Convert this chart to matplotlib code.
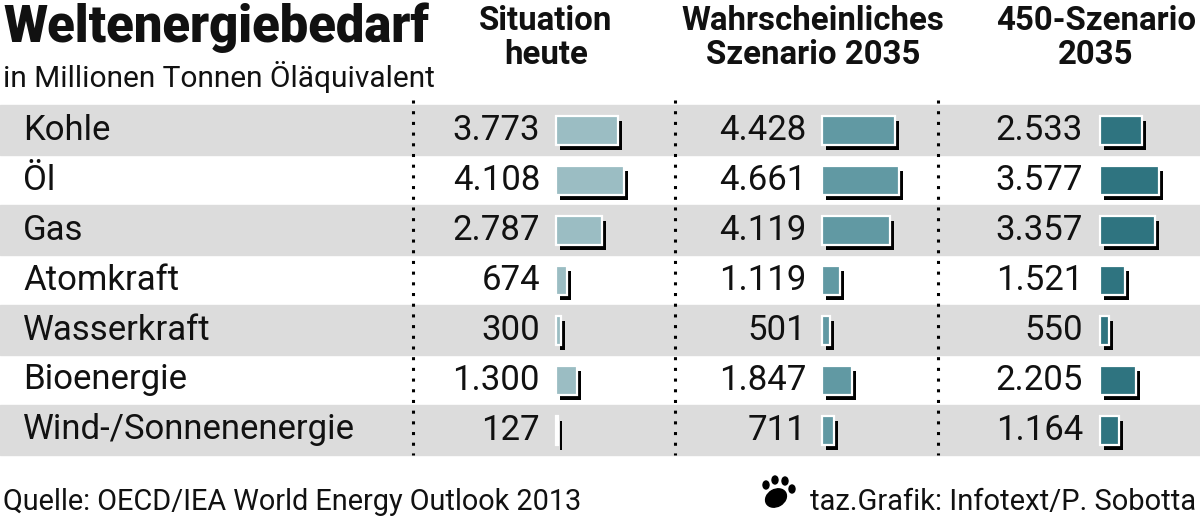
import matplotlib.pyplot as plt
from matplotlib.patches import Ellipse
import numpy as np

plt.rcParams['font.family'] = ['Roboto', 'DejaVu Sans']

# data (Millionen Tonnen Öläquivalent)
categories = ['Kohle', 'Öl', 'Gas', 'Atomkraft', 'Wasserkraft', 'Bioenergie', 'Wind-/Sonnenenergie']
heute = [3773, 4108, 2787, 674, 300, 1300, 127]
wahrscheinlich_2035 = [4428, 4661, 4119, 1119, 501, 1847, 711]
szenario450_2035 = [2533, 3577, 3357, 1521, 550, 2205, 1164]
col_titles = ['Situation\nheute', 'Wahrscheinliches\nSzenario 2035', '450-Szenario\n2035']
colors = ['#9bbdc3', '#6199a3', '#2f7480']


def fmt(v):
    # deutsche Tausendertrennung
    return f'{v:,}'.replace(',', '.')


fig = plt.figure(figsize=(12, 5.22), dpi=100)
ax = fig.add_axes([0, 0, 1, 1])
ax.set_xlim(0, 1200)
ax.set_ylim(522, 0)
ax.axis('off')

row_top = 105
row_h = 50
y = row_top + row_h / 2 + row_h * np.arange(len(categories))

# graue Streifen
for i, yc in enumerate(y):
    if i % 2 == 0:
        ax.axhspan(yc - row_h / 2, yc + row_h / 2, color='#dcdcdc', zorder=0)

# gepunktete Trennlinien
ax.vlines([413, 675, 938], 100, 455, colors='black',
          linestyles=(0, (1, 2.5)), linewidth=2.2, zorder=1)

# Titel
ax.text(3, 42, 'Weltenergiebedarf', fontsize=36.5, fontweight='black',
        ha='left', va='baseline', color='#111111')
ax.text(3, 87, 'in Millionen Tonnen Öläquivalent', fontsize=21.5,
        ha='left', va='baseline', color='#111111')

# Zeilenbeschriftung
for yc, cat in zip(y, categories):
    ax.text(23, yc, cat, fontsize=25, ha='left', va='center', color='#111111')

series = [heute, wahrscheinlich_2035, szenario450_2035]
head_x = [546, 813, 1096]
value_right = [540, 806, 1083]
bar_left = [556, 822, 1100]
px_per_unit = 0.0165

for vals, title, hx, xr, xb, c in zip(series, col_titles, head_x, value_right, bar_left, colors):
    ax.text(hx, 38, title, fontsize=23.8, fontweight='bold', ha='center', va='center',
            linespacing=1.05, color='#111111')
    w = np.array(vals) * px_per_unit
    ax.barh(y + 5, w, left=xb + 4, height=29, color='black', zorder=2)
    ax.barh(y, w, left=xb, height=29, color=c, edgecolor='white', linewidth=1.6, zorder=3)
    for yc, v in zip(y, vals):
        ax.text(xr, yc, fmt(v), fontsize=25, ha='right', va='center', color='#111111')

# Fußzeile
ax.text(3, 510, 'Quelle: OECD/IEA World Energy Outlook 2013', fontsize=20.8,
        ha='left', va='baseline', color='#111111')
ax.text(1196, 510, 'taz.Grafik: Infotext/P. Sobotta', fontsize=21,
        ha='right', va='baseline', color='#111111')

# Tatze
ax.add_patch(Ellipse((776, 498), 22, 17, angle=-30, color='black'))
for tx, ty, tw, th in [(766, 485, 6, 8), (775, 480, 6, 8), (785, 481, 6, 8), (792, 489, 6, 8)]:
    ax.add_patch(Ellipse((tx, ty), tw, th, color='black'))

fig.savefig('out.png', dpi=100)
